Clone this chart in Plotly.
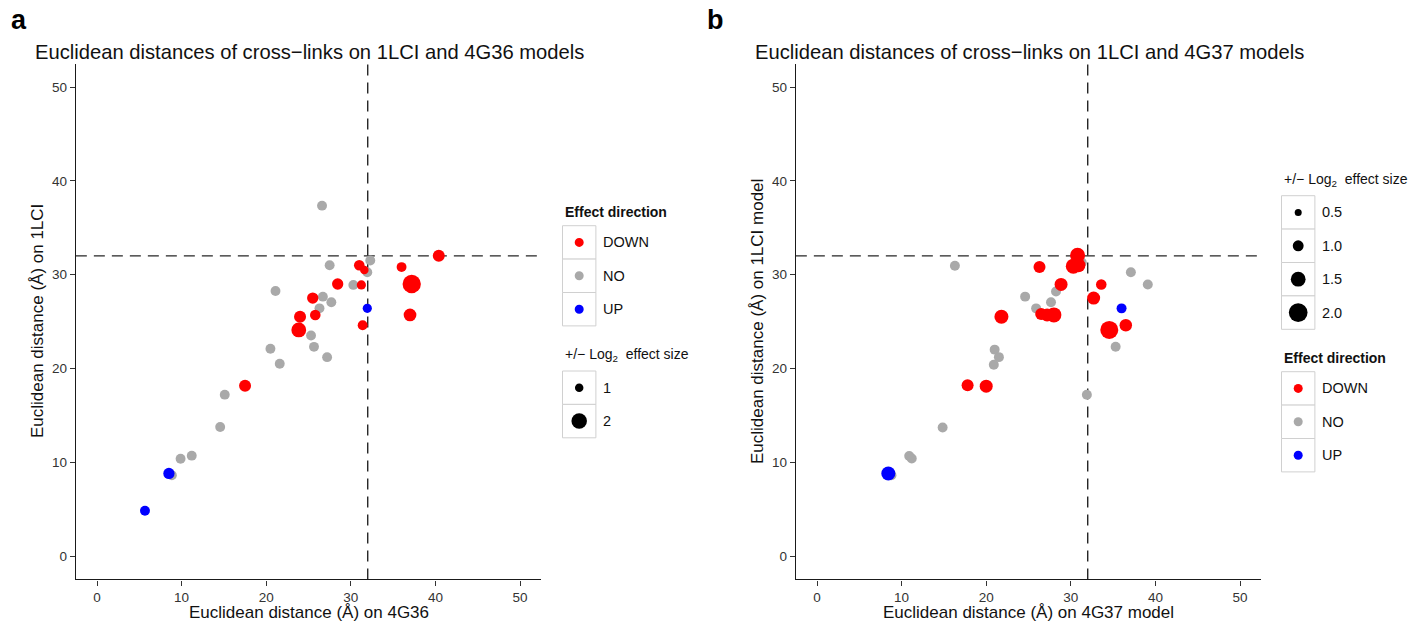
import plotly.graph_objects as go

W, H = 1412, 622
FONT = "Liberation Sans, Arial, sans-serif"

# ---------------- data ----------------
# Panel a: 1LCI vs 4G36
a_down_x = [40.4, 31.0, 31.6, 36.0, 37.2, 28.45, 31.25, 25.5, 25.8, 24.0, 37.0, 31.4, 23.85, 17.5]
a_down_y = [32.0, 31.0, 30.5, 30.8, 29.0, 29.0, 28.9, 27.5, 25.7, 25.5, 25.7, 24.6, 24.1, 18.15]
a_down_es = [1.5, 1.3, 1.0, 1.2, 2.4, 1.4, 1.1, 1.4, 1.3, 1.5, 1.6, 1.2, 1.9, 1.5]

a_no_x = [26.6, 27.5, 32.3, 31.95, 30.3, 21.1, 26.7, 27.7, 26.3, 25.3, 25.65, 20.5, 27.2, 21.6, 15.1, 14.56, 9.88, 11.2, 8.85]
a_no_y = [37.35, 31.0, 31.5, 30.25, 28.9, 28.25, 27.65, 27.05, 26.4, 23.5, 22.3, 22.1, 21.2, 20.5, 17.2, 13.75, 10.37, 10.7, 8.6]
a_no_es = [1.2] * len(a_no_x)

a_up_x = [31.95, 8.5, 5.67]
a_up_y = [26.4, 8.8, 4.83]
a_up_es = [1.1, 1.4, 1.2]

# Panel b: 1LCI vs 4G37
b_down_x = [26.3, 30.8, 30.3, 30.9, 28.85, 26.5, 27.2, 28.0, 21.8, 32.7, 33.6, 34.55, 36.5, 17.8, 20.0]
b_down_y = [30.8, 32.05, 30.9, 31.0, 28.95, 25.8, 25.7, 25.7, 25.5, 27.5, 28.95, 24.1, 24.6, 18.2, 18.1]
b_down_es = [1.14, 1.53, 1.53, 1.4, 1.27, 1.14, 1.27, 1.53, 1.4, 1.27, 0.95, 1.91, 1.2, 1.14, 1.27]

b_no_x = [16.3, 31.3, 28.25, 24.6, 27.66, 25.9, 37.1, 39.1, 35.3, 21.0, 21.5, 20.9, 31.9, 14.85, 10.9, 11.2, 8.8]
b_no_y = [30.95, 31.3, 28.2, 27.65, 27.05, 26.4, 30.25, 28.95, 22.3, 22.0, 21.2, 20.4, 17.2, 13.7, 10.66, 10.4, 8.6]
b_no_es = [0.88] * len(b_no_x)

b_up_x = [36.0, 8.43]
b_up_y = [26.4, 8.8]
b_up_es = [0.88, 1.4]

directions = ["DOWN", "NO", "UP"]
dir_colors = {"DOWN": "#FF0000", "NO": "#A9A9A9", "UP": "#0000FF"}
a_size_breaks = [1, 2]
a_size_labels = ["1", "2"]
b_size_breaks = [0.5, 1.0, 1.5, 2.0]
b_size_labels = ["0.5", "1.0", "1.5", "2.0"]
threshold = 32
ticks = [0, 10, 20, 30, 40, 50]

titles = ["Euclidean distances of cross\u2212links on 1LCI and 4G36 models",
          "Euclidean distances of cross\u2212links on 1LCI and 4G37 models"]
xtitles = ["Euclidean distance (\u00c5) on 4G36", "Euclidean distance (\u00c5) on 4G37 model"]
ytitles = ["Euclidean distance (\u00c5) on 1LCI", "Euclidean distance (\u00c5) on 1LCI model"]
size_title = "+/\u2212 Log<sub>2</sub>  effect size"
dir_title = "<b>Effect direction</b>"

# size mapping (effect size -> marker diameter in px), per panel
def size_a(v):
    return 1.5 + 7.0 * v

def size_b(v):
    return 3.1 + 7.8 * v

# ---------------- layout helpers ----------------
def PX(px):
    return px / W

def PY(py):
    return 1 - py / H

fig = go.Figure()

panels = [
    dict(xl=75.85, xr=541.15, xa="x", ya="y", sizef=size_a,
         data=[("NO", a_no_x, a_no_y, a_no_es), ("DOWN", a_down_x, a_down_y, a_down_es),
               ("UP", a_up_x, a_up_y, a_up_es)]),
    dict(xl=795.85, xr=1261.15, xa="x2", ya="y2", sizef=size_b,
         data=[("NO", b_no_x, b_no_y, b_no_es), ("DOWN", b_down_x, b_down_y, b_down_es),
               ("UP", b_up_x, b_up_y, b_up_es)]),
]
yt, yb = 63.55, 579.45

for p in panels:
    for d, xs, ys, es in p["data"]:
        fig.add_trace(go.Scatter(
            x=xs, y=ys, mode="markers", xaxis=p["xa"], yaxis=p["ya"], showlegend=False,
            marker=dict(color=dir_colors[d], size=[p["sizef"](v) for v in es], opacity=1,
                        line=dict(width=0)),
            hoverinfo="x+y"))

axis_common = dict(range=[-2.5, 52.5], tickvals=ticks, showgrid=False, zeroline=False,
                   showline=True, linecolor="#1a1a1a", linewidth=1.3, ticks="outside",
                   ticklen=5, tickwidth=1.1, tickcolor="#333333",
                   tickfont=dict(family=FONT, size=13.5, color="#333333"))

fig.update_layout(
    width=W, height=H, margin=dict(l=0, r=0, t=0, b=0),
    paper_bgcolor="white", plot_bgcolor="white", showlegend=False,
    xaxis=dict(domain=[PX(panels[0]["xl"]), PX(panels[0]["xr"])], anchor="y", **axis_common),
    yaxis=dict(domain=[PY(yb), PY(yt)], anchor="x", **axis_common),
    xaxis2=dict(domain=[PX(panels[1]["xl"]), PX(panels[1]["xr"])], anchor="y2", **axis_common),
    yaxis2=dict(domain=[PY(yb), PY(yt)], anchor="x2", **axis_common),
)

shapes = []
annotations = []

for i, p in enumerate(panels):
    xa, ya = p["xa"], p["ya"]
    dash = dict(color="#262626", width=1.4, dash="11px,7px")
    shapes.append(dict(type="line", xref=xa + " domain", yref=ya, x0=0, x1=1, y0=threshold, y1=threshold,
                       line=dash, layer="below"))
    shapes.append(dict(type="line", xref=xa, yref=ya + " domain", x0=threshold, x1=threshold, y0=0, y1=1,
                       line=dash, layer="below"))
    # titles
    annotations.append(dict(text=titles[i], xref="paper", yref="paper", x=PX(p["xl"] - 43), y=PY(52),
                            xanchor="left", yanchor="middle", showarrow=False,
                            font=dict(family=FONT, size=20.2, color="#111111")))
    annotations.append(dict(text=xtitles[i], xref="paper", yref="paper", x=PX((p["xl"] + p["xr"]) / 2),
                            y=PY(612.5), xanchor="center", yanchor="middle", showarrow=False,
                            font=dict(family=FONT, size=17, color="#111111")))
    annotations.append(dict(text=ytitles[i], xref="paper", yref="paper", x=PX(p["xl"] - 38.3),
                            y=PY((yt + yb) / 2), xanchor="center", yanchor="middle", showarrow=False,
                            textangle=-90, font=dict(family=FONT, size=17, color="#111111")))

# panel letters
annotations.append(dict(text="<b>a</b>", xref="paper", yref="paper", x=PX(9), y=PY(20), xanchor="left",
                        yanchor="middle", showarrow=False, font=dict(family=FONT, size=27, color="black")))
annotations.append(dict(text="<b>b</b>", xref="paper", yref="paper", x=PX(705), y=PY(20), xanchor="left",
                        yanchor="middle", showarrow=False, font=dict(family=FONT, size=27, color="black")))


def legend_block(left, title_y, top, labels, colors, diams, box=33.4, bold_title=None):
    annotations.append(dict(text=bold_title, xref="paper", yref="paper", x=PX(left), y=PY(title_y),
                            xanchor="left", yanchor="middle", showarrow=False,
                            font=dict(family=FONT, size=14, color="#111111")))
    for k, (lab, col, dm) in enumerate(zip(labels, colors, diams)):
        y0 = top + k * box
        shapes.append(dict(type="rect", xref="paper", yref="paper", x0=PX(left), x1=PX(left + box),
                           y0=PY(y0 + box), y1=PY(y0), line=dict(color="#D0D0D0", width=1),
                           fillcolor="white", layer="above"))
        cx, cy = left + box / 2, y0 + box / 2
        shapes.append(dict(type="circle", xref="paper", yref="paper", xsizemode="pixel", ysizemode="pixel",
                           xanchor=PX(cx), yanchor=PY(cy), x0=-dm / 2, x1=dm / 2, y0=-dm / 2, y1=dm / 2,
                           fillcolor=col, line=dict(width=0), layer="above"))
        annotations.append(dict(text=lab, xref="paper", yref="paper", x=PX(left + box + 5), y=PY(cy),
                                xanchor="left", yanchor="middle", showarrow=False,
                                font=dict(family=FONT, size=14.5, color="#111111")))


# panel a legends
legend_block(562.5, 212, 225.7, directions, [dir_colors[d] for d in directions], [9, 9, 9],
             bold_title=dir_title)
legend_block(562.5, 355, 371.0, a_size_labels, ["black"] * 2, [size_a(v) for v in a_size_breaks],
             bold_title=size_title)
# panel b legends
legend_block(1281.5, 180, 195.7, b_size_labels, ["black"] * 4, [size_b(v) for v in b_size_breaks],
             bold_title=size_title)
legend_block(1281.5, 357.5, 371.7, directions, [dir_colors[d] for d in directions], [9, 9, 9],
             bold_title=dir_title)

fig.update_layout(shapes=shapes, annotations=annotations)
fig.write_html("out.html")
